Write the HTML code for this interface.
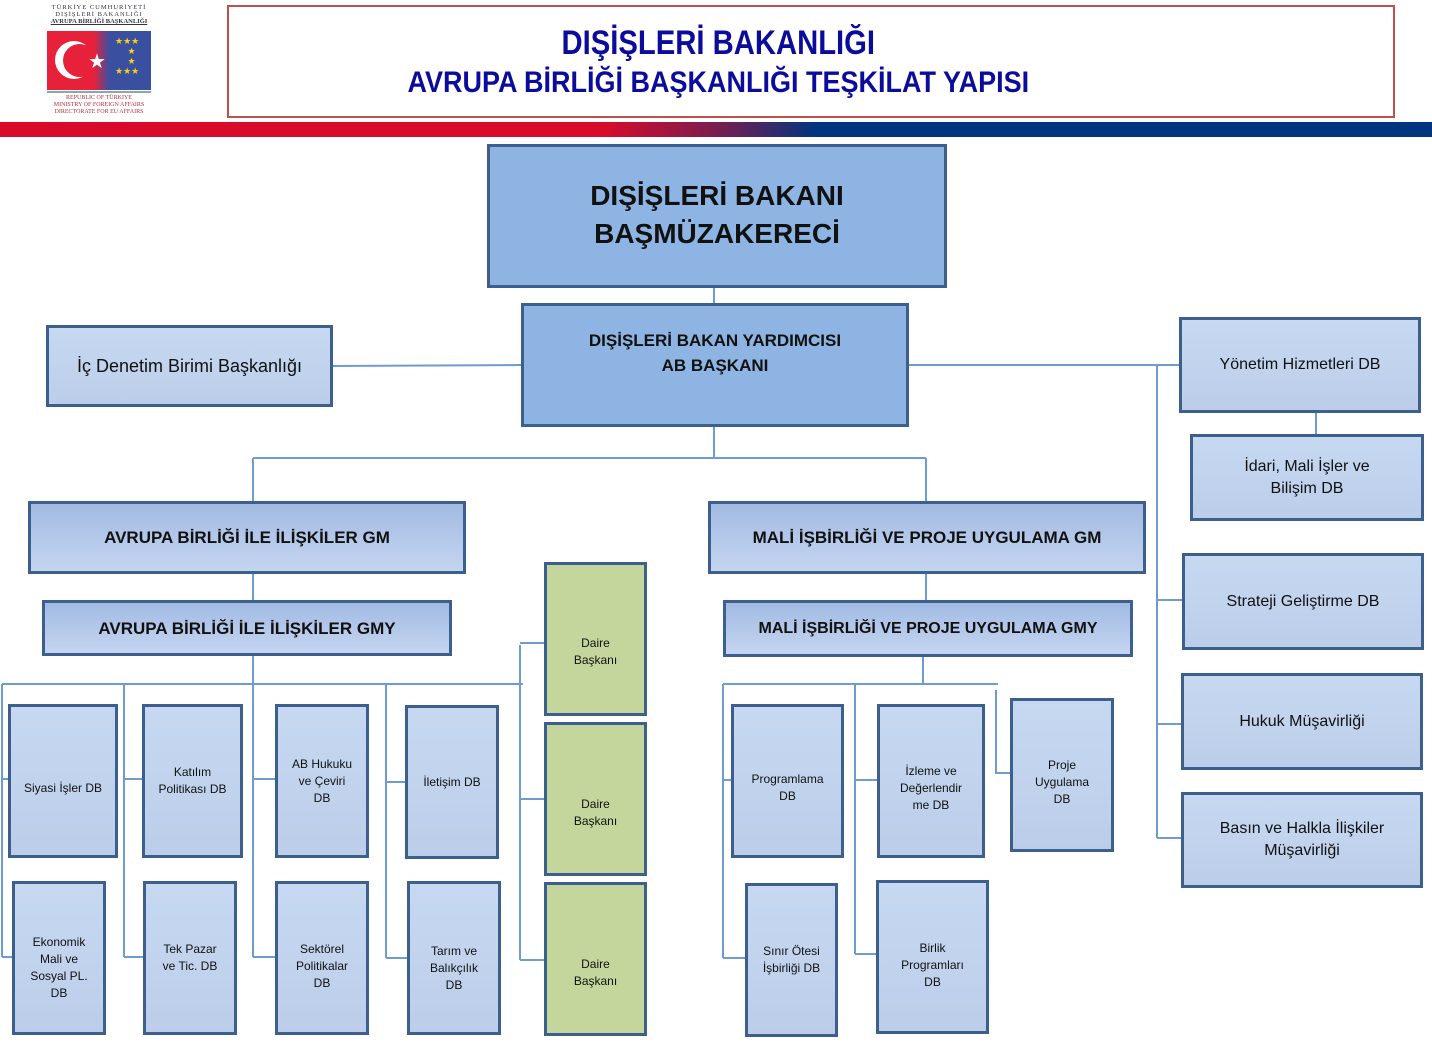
<!DOCTYPE html>
<html><head><meta charset="utf-8">
<style>
*{margin:0;padding:0;box-sizing:border-box}
body{width:1432px;height:1042px;background:#fff;position:relative;overflow:hidden;font-family:"Liberation Sans",sans-serif}
.b{position:absolute;border:3px solid #3c5f8e;background:linear-gradient(#c6d9f1,#bccde9);display:flex;align-items:center;justify-content:center;text-align:center;color:#111;font-size:12px;line-height:17px}
.g{background:#c4d69b}
.gm{background:linear-gradient(#a2bae3,#c4d5ef);font-weight:bold;font-size:17px}
.r{font-size:16px;line-height:22px}
svg{position:absolute;left:0;top:0}
.t{position:absolute;left:227px;width:982px;text-align:center;color:#0c0c9c;font-weight:bold;white-space:nowrap}
</style></head><body>
<!-- logo -->
<div style="position:absolute;left:44px;top:4px;width:110px;font-family:'Liberation Serif',serif;font-size:6.5px;line-height:7px;color:#334;text-align:center;letter-spacing:1px">TÜRKİYE CUMHURİYETİ<br>DIŞİŞLERİ BAKANLIĞI<br><span style="letter-spacing:0;font-weight:bold;text-decoration:underline">AVRUPA BİRLİĞİ BAŞKANLIĞI</span></div>
<div style="position:absolute;left:47px;top:31px;width:104px;height:59px;background:linear-gradient(90deg,#e8213a 0,#e8213a 45%,#3a4fa0 60%,#3a4fa0 100%)"></div>
<div style="position:absolute;left:55px;top:41px;width:38px;height:38px;border-radius:50%;background:#fff"></div>
<div style="position:absolute;left:63px;top:44px;width:33px;height:33px;border-radius:50%;background:#e8213a"></div>
<div style="position:absolute;left:88px;top:49px;color:#fff;font-size:20px">★</div>
<div style="position:absolute;left:110px;top:36px;color:#f5d312;font-size:9px;line-height:10px;width:40px">&nbsp;&nbsp;★★★<br>&nbsp;&nbsp;&nbsp;&nbsp;&nbsp;&nbsp;&nbsp;★<br>&nbsp;&nbsp;&nbsp;&nbsp;&nbsp;&nbsp;&nbsp;★<br>&nbsp;&nbsp;★★★</div>
<div style="position:absolute;left:47px;top:91px;width:104px;height:2px;background:#8aa"></div>
<div style="position:absolute;left:44px;top:95px;width:110px;font-family:'Liberation Serif',serif;font-size:6px;line-height:7px;color:#b03040;text-align:center">REPUBLIC OF TÜRKİYE<br>MINISTRY OF FOREIGN AFFAIRS<br>DIRECTORATE FOR EU AFFAIRS</div>
<!-- title -->
<div style="position:absolute;left:227px;top:5px;width:1168px;height:113px;border:2px solid #c0504d"></div>
<div class="t" style="top:24px;font-size:34px;line-height:38px"><span style="display:inline-block;transform:scaleX(0.86)">DIŞİŞLERİ BAKANLIĞI</span></div>
<div class="t" style="top:66px;font-size:30px;line-height:34px"><span style="display:inline-block;transform:scaleX(0.9)">AVRUPA BİRLİĞİ BAŞKANLIĞI TEŞKİLAT YAPISI</span></div>
<div style="position:absolute;left:0;top:122px;width:1432px;height:15px;background:linear-gradient(90deg,#d80c2a 0,#d80c2a 42%,#7a1d4f 50%,#003580 57%,#003580 100%)"></div>
<!-- lines -->
<svg width="1432" height="1042"><g stroke="#6f9ccf" stroke-width="2" fill="none">
<path d="M714 287V303M714 426V458M253 458H926M253 458V501M926 458V501M332 366L521 365"/>
<path d="M253 573V600M253 655V684M2 684H523M2 684V957M124 684V957M253 684V957M386 684V958"/>
<path d="M2 779H8M2 957H12M124 779H142M124 957H143M253 779H275M253 957H275M386 782H405M386 958H407"/>
<path d="M520 645V960M520 643H544M520 799H544M520 960H544"/>
<path d="M926 573V600M923 656V684M723 684H998M723 684V958M723 780H731M723 958H745M855 684V954M855 780H877M855 954H876M996 690V773H1010"/>
<path d="M908 365H1180M1157 365V838M1157 600H1183M1157 724H1181M1157 838H1181M1316 412V434"/>
</g></svg>
<!-- top boxes -->
<div class="b" style="left:487px;top:144px;width:460px;height:144px;background:#8db4e2;font-size:28px;line-height:38px;font-weight:bold;padding-bottom:2px">DIŞİŞLERİ BAKANI<br>BAŞMÜZAKERECİ</div>
<div class="b" style="left:521px;top:303px;width:388px;height:124px;background:#8db4e2;font-size:17px;line-height:25px;font-weight:bold;align-items:flex-start;padding-top:22px">DIŞİŞLERİ BAKAN YARDIMCISI<br>AB BAŞKANI</div>
<div class="b" style="left:46px;top:325px;width:287px;height:82px;font-size:18px">İç Denetim Birimi Başkanlığı</div>
<div class="b gm" style="left:28px;top:501px;width:438px;height:73px">AVRUPA BİRLİĞİ İLE İLİŞKİLER GM</div>
<div class="b gm" style="left:42px;top:600px;width:410px;height:56px">AVRUPA BİRLİĞİ İLE İLİŞKİLER GMY</div>
<div class="b gm" style="left:708px;top:501px;width:438px;height:73px">MALİ İŞBİRLİĞİ VE PROJE UYGULAMA GM</div>
<div class="b gm" style="left:723px;top:600px;width:410px;height:57px;font-size:16px">MALİ İŞBİRLİĞİ VE PROJE UYGULAMA GMY</div>
<!-- left column -->
<div class="b" style="left:8px;top:704px;width:110px;height:154px;padding-top:14px">Siyasi İşler DB</div>
<div class="b" style="left:12px;top:881px;width:94px;height:154px;padding-top:20px">Ekonomik<br>Mali ve<br>Sosyal PL.<br>DB</div>
<div class="b" style="left:142px;top:704px;width:101px;height:154px">Katılım<br>Politikası DB</div>
<div class="b" style="left:143px;top:881px;width:94px;height:154px">Tek Pazar<br>ve Tic. DB</div>
<div class="b" style="left:275px;top:704px;width:94px;height:154px">AB Hukuku<br>ve Çeviri<br>DB</div>
<div class="b" style="left:275px;top:881px;width:94px;height:154px;padding-top:16px">Sektörel<br>Politikalar<br>DB</div>
<div class="b" style="left:405px;top:705px;width:94px;height:154px">İletişim DB</div>
<div class="b" style="left:407px;top:881px;width:94px;height:154px;padding-top:20px">Tarım ve<br>Balıkçılık<br>DB</div>
<div class="b g" style="left:544px;top:562px;width:103px;height:154px;padding-top:26px">Daire<br>Başkanı</div>
<div class="b g" style="left:544px;top:722px;width:103px;height:154px;padding-top:28px">Daire<br>Başkanı</div>
<div class="b g" style="left:544px;top:882px;width:103px;height:154px;padding-top:28px">Daire<br>Başkanı</div>
<!-- middle right -->
<div class="b" style="left:731px;top:704px;width:113px;height:154px;padding-top:14px">Programlama<br>DB</div>
<div class="b" style="left:877px;top:704px;width:108px;height:154px;padding-top:14px">İzleme ve<br>Değerlendir<br>me DB</div>
<div class="b" style="left:1010px;top:698px;width:104px;height:154px;padding-top:14px">Proje<br>Uygulama<br>DB</div>
<div class="b" style="left:745px;top:883px;width:93px;height:154px">Sınır Ötesi<br>İşbirliği DB</div>
<div class="b" style="left:876px;top:880px;width:113px;height:154px;padding-top:16px">Birlik<br>Programları<br>DB</div>
<!-- right column -->
<div class="b r" style="left:1179px;top:317px;width:242px;height:96px">Yönetim Hizmetleri DB</div>
<div class="b r" style="left:1190px;top:434px;width:234px;height:87px">İdari, Mali İşler ve<br>Bilişim DB</div>
<div class="b r" style="left:1182px;top:553px;width:242px;height:97px">Strateji Geliştirme DB</div>
<div class="b r" style="left:1181px;top:673px;width:242px;height:97px">Hukuk Müşavirliği</div>
<div class="b r" style="left:1181px;top:792px;width:242px;height:96px">Basın ve Halkla İlişkiler<br>Müşavirliği</div>
</body></html>
